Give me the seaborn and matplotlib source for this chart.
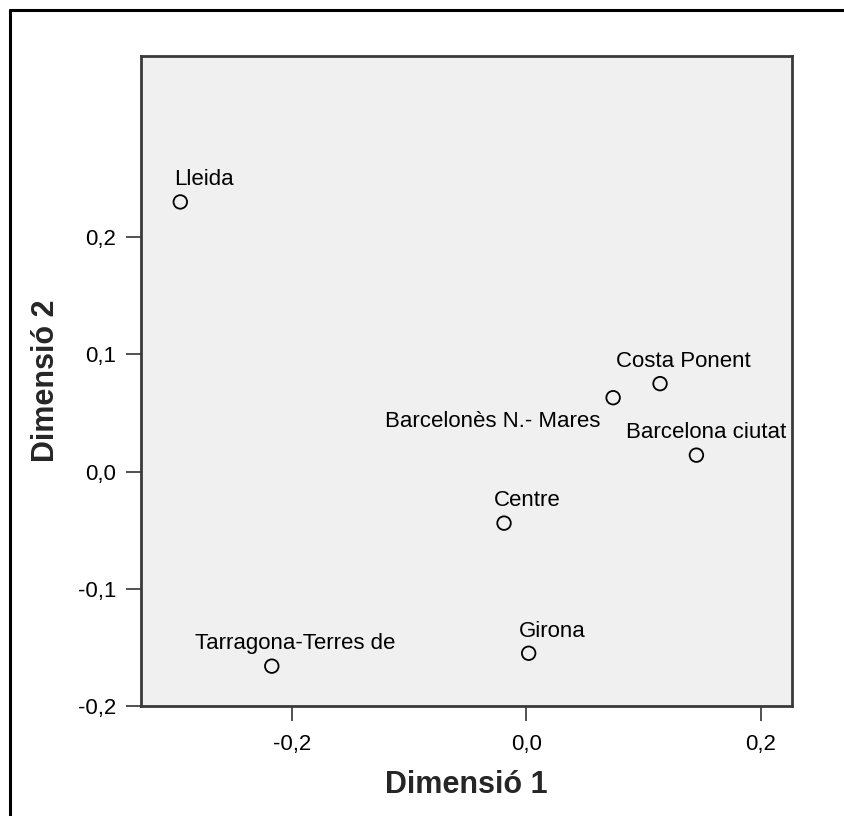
import matplotlib
matplotlib.use("Agg")
import matplotlib.pyplot as plt
from matplotlib.lines import Line2D
import seaborn as sns
import pandas as pd

# ---- data ----
names = ["Lleida", "Costa Ponent", "Barcelonès N.- Mares", "Barcelona ciutat",
         "Centre", "Girona", "Tarragona-Terres de"]
dim1 = [-0.295, 0.114, 0.074, 0.145, -0.019, 0.002, -0.217]
dim2 = [0.230, 0.075, 0.063, 0.014, -0.044, -0.155, -0.166]
xticks = [-0.2, 0.0, 0.2]
xticklabels = ["-0,2", "0,0", "0,2"]
yticks = [-0.2, -0.1, 0.0, 0.1, 0.2]
yticklabels = ["-0,2", "-0,1", "0,0", "0,1", "0,2"]
xlabel = "Dimensió 1"
ylabel = "Dimensió 2"

df = pd.DataFrame({"name": names, "d1": dim1, "d2": dim2})

sns.set_style("white")
plt.rcParams["font.family"] = ["Liberation Sans", "DejaVu Sans"]

W, H = 844, 816
fig = plt.figure(figsize=(W / 100, H / 100), dpi=100)
ax = fig.add_axes([141 / W, 1 - 706 / H, (792 - 141) / W, (706 - 56) / H])
ax.set_facecolor("#F0F0F0")

sns.scatterplot(data=df, x="d1", y="d2", ax=ax, marker="o", s=95,
                facecolor="none", edgecolor="black", linewidth=1.3, legend=False)

# label offsets (points)
default_off = (17, 16)
special = {"Barcelona ciutat": (7, 16), "Barcelonès N.- Mares": (-9, -17)}
for n, x, y in zip(names, dim1, dim2):
    off = special.get(n, default_off)
    ha = "right" if off[0] < 0 else "center"
    ax.annotate(n, (x, y), xytext=off, textcoords="offset points",
                ha=ha, va="center", fontsize=16, color="black")

ax.set_xlim(-0.3285, 0.2265)
ax.set_ylim(-0.2, 0.3545)
ax.set_xticks(xticks)
ax.set_xticklabels(xticklabels)
ax.set_yticks(yticks)
ax.set_yticklabels(yticklabels)
ax.tick_params(axis="both", which="major", direction="out", length=11, width=1.2,
               color="#333333", labelsize=16, labelcolor="black", left=True, bottom=True)
ax.tick_params(axis="x", pad=9)
ax.tick_params(axis="y", pad=7)
for sp in ax.spines.values():
    sp.set_visible(True)
    sp.set_color("#3a3a3a")
    sp.set_linewidth(2.0)

ax.set_xlabel(xlabel, fontsize=22, fontweight="bold", labelpad=11)
ax.set_ylabel(ylabel, fontsize=22, fontweight="bold", labelpad=12)

# outer frame (top and left edges visible)
fig.add_artist(Line2D([10 / W, 1.01], [1 - 10 / H, 1 - 10 / H], color="black",
                      linewidth=2.2, transform=fig.transFigure))
fig.add_artist(Line2D([10 / W, 10 / W], [-0.01, 1 - 10 / H], color="black",
                      linewidth=2.2, transform=fig.transFigure))

fig.savefig("out.png", dpi=100, facecolor="white")
